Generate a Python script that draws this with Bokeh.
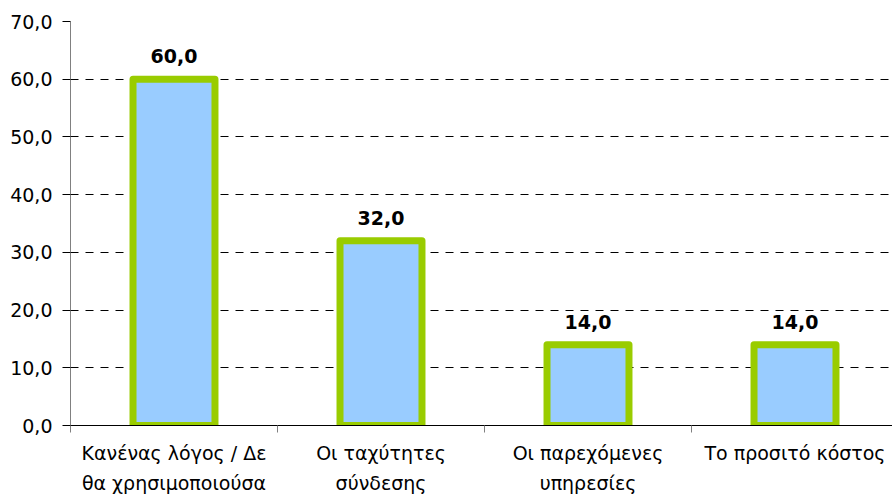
from bokeh.plotting import figure
from bokeh.models import ColumnDataSource, Range1d, FixedTicker, CustomJSTickFormatter
from bokeh.core.properties import value
from bokeh.embed import file_html
from bokeh.resources import INLINE

categories = ["Κανένας λόγος / Δε\nθα χρησιμοποιούσα", "Οι ταχύτητες\nσύνδεσης",
              "Οι παρεχόμενες\nυπηρεσίες", "Το προσιτό κόστος"]
values = [60.0, 32.0, 14.0, 14.0]
y_ticks = [0, 10, 20, 30, 40, 50, 60, 70]

FONT = "DejaVu Sans"
FS = "19px"

xs = [i + 0.5 for i in range(len(categories))]
labels = [f"{v:.1f}".replace(".", ",") for v in values]
src = ColumnDataSource(dict(x=xs, top=values, label=labels))

p = figure(width=892, height=497, output_backend="svg", toolbar_location=None,
           x_range=Range1d(0, 3.971), y_range=Range1d(0, 70),
           min_border_left=70, min_border_right=0, min_border_top=21, min_border_bottom=60)
p.outline_line_color = None
p.background_fill_color = "white"
p.border_fill_color = "white"

p.ygrid.ticker = FixedTicker(ticks=y_ticks[1:])
p.ygrid.grid_line_color = "black"
p.ygrid.grid_line_dash = "8 7"
p.ygrid.grid_line_width = 1
p.xgrid.grid_line_color = None

p.vbar(x="x", top="top", bottom=0, width=0.396, source=src,
       fill_color="#99CCFF", line_color="#99CC00", line_width=7, line_join="round")

p.text(x="x", y="top", text="label", source=src, text_align="center", text_baseline="bottom",
       y_offset=-16, text_font=value(FONT), text_font_style="bold", text_font_size=FS,
       text_color="black")

# y axis
p.yaxis.ticker = FixedTicker(ticks=y_ticks)
p.yaxis.formatter = CustomJSTickFormatter(code="return tick.toFixed(1).replace('.', ',');")
p.yaxis.axis_line_color = "#808080"
p.yaxis.axis_line_width = 1
p.yaxis.major_tick_line_color = "black"
p.yaxis.major_tick_out = 8
p.yaxis.major_tick_in = 0
p.yaxis.minor_tick_line_color = None
p.yaxis.major_label_text_font = FONT
p.yaxis.major_label_text_font_size = FS
p.yaxis.major_label_text_color = "black"
p.yaxis.major_label_standoff = 10

# x axis: labels at category centers, ticks at category boundaries (minor ticks)
p.xaxis.ticker = FixedTicker(ticks=xs, minor_ticks=list(range(len(categories) + 1)))
p.xaxis.major_label_overrides = {x: c for x, c in zip(xs, categories)}
p.xaxis.axis_line_color = "black"
p.xaxis.major_tick_line_color = None
p.xaxis.major_tick_out = 7
p.xaxis.major_tick_in = 0
p.xaxis.minor_tick_line_color = "#808080"
p.xaxis.minor_tick_out = 7
p.xaxis.minor_tick_in = 0
p.xaxis.major_label_text_font = FONT
p.xaxis.major_label_text_font_size = FS
p.xaxis.major_label_text_line_height = 1.4
p.xaxis.major_label_text_color = "black"
p.xaxis.major_label_standoff = 9

open("out.html", "w").write(file_html(p, INLINE))
